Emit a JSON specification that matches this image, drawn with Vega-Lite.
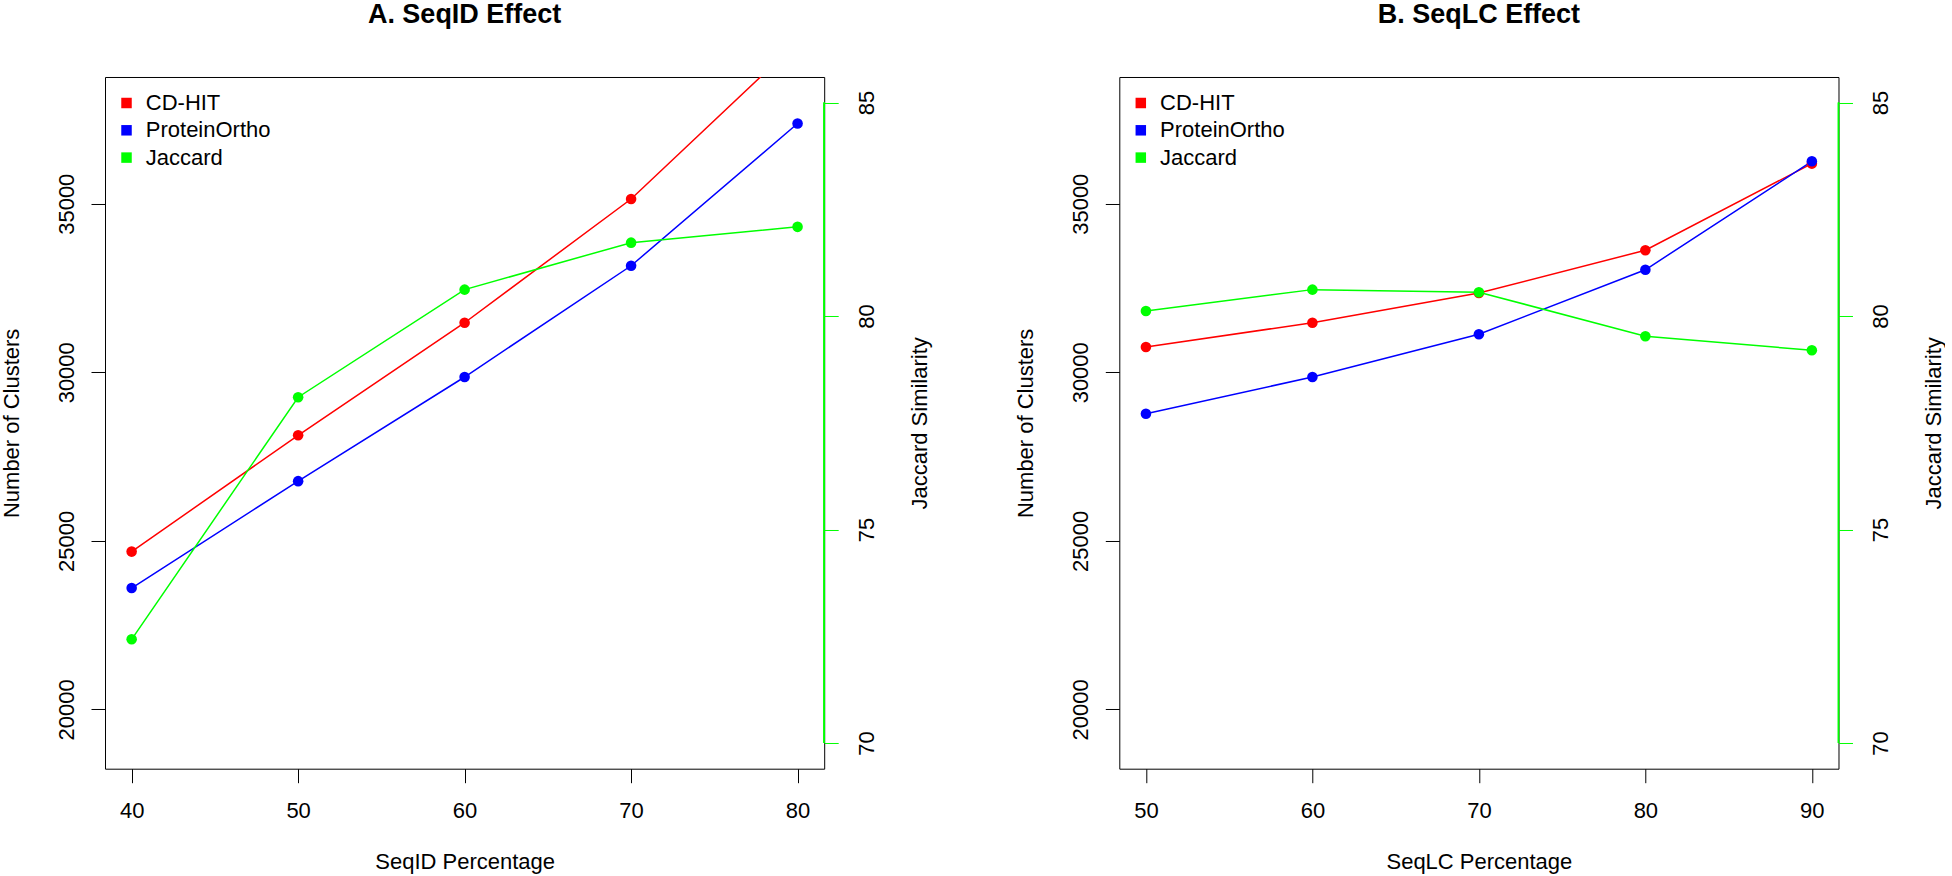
{
  "$schema": "https://vega.github.io/schema/vega-lite/v6.json",
  "background": "white",
  "padding": {"left": 0, "top": 0, "right": 0, "bottom": 0},
  "data": {"values": [
    {"panel": "A", "pct": 40, "series": "CD-HIT", "value": 24680},
    {"panel": "A", "pct": 50, "series": "CD-HIT", "value": 28130},
    {"panel": "A", "pct": 60, "series": "CD-HIT", "value": 31470},
    {"panel": "A", "pct": 70, "series": "CD-HIT", "value": 35140},
    {"panel": "A", "pct": 80, "series": "CD-HIT", "value": 39800},
    {"panel": "A", "pct": 40, "series": "ProteinOrtho", "value": 23600},
    {"panel": "A", "pct": 50, "series": "ProteinOrtho", "value": 26770},
    {"panel": "A", "pct": 60, "series": "ProteinOrtho", "value": 29860},
    {"panel": "A", "pct": 70, "series": "ProteinOrtho", "value": 33160},
    {"panel": "A", "pct": 80, "series": "ProteinOrtho", "value": 37380},
    {"panel": "A", "pct": 40, "series": "Jaccard", "value": 72.43},
    {"panel": "A", "pct": 50, "series": "Jaccard", "value": 78.10},
    {"panel": "A", "pct": 60, "series": "Jaccard", "value": 80.62},
    {"panel": "A", "pct": 70, "series": "Jaccard", "value": 81.72},
    {"panel": "A", "pct": 80, "series": "Jaccard", "value": 82.09},
    {"panel": "B", "pct": 50, "series": "CD-HIT", "value": 30750},
    {"panel": "B", "pct": 60, "series": "CD-HIT", "value": 31470},
    {"panel": "B", "pct": 70, "series": "CD-HIT", "value": 32350},
    {"panel": "B", "pct": 80, "series": "CD-HIT", "value": 33620},
    {"panel": "B", "pct": 90, "series": "CD-HIT", "value": 36190},
    {"panel": "B", "pct": 50, "series": "ProteinOrtho", "value": 28770},
    {"panel": "B", "pct": 60, "series": "ProteinOrtho", "value": 29860},
    {"panel": "B", "pct": 70, "series": "ProteinOrtho", "value": 31130},
    {"panel": "B", "pct": 80, "series": "ProteinOrtho", "value": 33040},
    {"panel": "B", "pct": 90, "series": "ProteinOrtho", "value": 36260},
    {"panel": "B", "pct": 50, "series": "Jaccard", "value": 80.12},
    {"panel": "B", "pct": 60, "series": "Jaccard", "value": 80.62},
    {"panel": "B", "pct": 70, "series": "Jaccard", "value": 80.56},
    {"panel": "B", "pct": 80, "series": "Jaccard", "value": 79.53},
    {"panel": "B", "pct": 90, "series": "Jaccard", "value": 79.20}
  ]},
  "config": {
    "font": "Liberation Sans",
    "view": {"stroke": "black", "strokeWidth": 1},
    "axis": {
      "grid": false, "domain": false,
      "labelFont": "Liberation Sans", "titleFont": "Liberation Sans",
      "labelFontSize": 22, "titleFontSize": 22, "titleFontWeight": "normal",
      "labelColor": "black", "titleColor": "black",
      "tickColor": "black", "tickSize": 14, "tickWidth": 1,
      "minExtent": 50, "maxExtent": 50, "labelFlush": false, "labelOverlap": false
    },
    "title": {"font": "Liberation Sans", "fontSize": 27, "fontWeight": "bold", "color": "black", "baseline": "alphabetic", "offset": 48, "frame": "group", "anchor": "middle"},
    "legend": {"labelFont": "Liberation Sans"}
  },
  "hconcat": [
    {
      "width": 719.2, "height": 691.7,
      "title": "A. SeqID Effect",
      "transform": [{"filter": "datum.panel == 'A'"}],
      "encoding": {
        "x": {"field": "pct", "type": "quantitative", "scale": {"domain": [38.4, 81.6], "nice": false, "zero": false},
              "axis": {"values": [40, 50, 60, 70, 80], "title": "SeqID Percentage", "labelBaseline": "alphabetic", "labelPadding": 35, "titleBaseline": "alphabetic", "titlePadding": 50}}
      },
      "layer": [
        {
          "transform": [{"filter": "datum.series != 'Jaccard'"}],
          "encoding": {
            "y": {"field": "value", "type": "quantitative", "scale": {"domain": [18240, 38760], "nice": false, "zero": false},
                  "axis": {"orient": "left", "values": [20000, 25000, 30000, 35000], "format": "d", "title": "Number of Clusters",
                           "labelAngle": 270, "labelAlign": "center", "labelBaseline": "alphabetic", "labelPadding": 17.7,
                           "titleAngle": 270, "titleBaseline": "alphabetic", "titlePadding": 36.4}},
            "color": {"field": "series", "type": "nominal", "scale": {"domain": ["CD-HIT", "ProteinOrtho", "Jaccard"], "range": ["#FF0000", "#0000FF", "#00FF00"]},
                      "legend": {"orient": "none", "legendX": 10.5, "legendY": 15, "title": null, "symbolType": "square", "symbolSize": 110, "symbolStrokeWidth": 0, "symbolOpacity": 1, "labelFontSize": 22, "labelColor": "black", "labelOffset": 8.3, "rowPadding": 5.3, "padding": 0}}
          },
          "layer": [
            {"mark": {"type": "line", "strokeWidth": 1.5, "clip": true}},
            {"mark": {"type": "point", "filled": true, "size": 112, "opacity": 1, "strokeWidth": 0, "clip": true}}
          ]
        },
        {
          "transform": [{"filter": "datum.series == 'Jaccard'"}],
          "encoding": {
            "y": {"field": "value", "type": "quantitative", "scale": {"domain": [69.4, 85.6], "nice": false, "zero": false},
                  "axis": {"orient": "right", "values": [70, 75, 80, 85], "format": "d", "title": "Jaccard Similarity", "tickColor": "#00FF00",
                           "labelAngle": 270, "labelAlign": "center", "labelBaseline": "alphabetic", "labelPadding": 34.8,
                           "titleAngle": 270, "titleBaseline": "alphabetic", "titlePadding": 51.8}},
            "color": {"field": "series", "type": "nominal", "scale": {"domain": ["CD-HIT", "ProteinOrtho", "Jaccard"], "range": ["#FF0000", "#0000FF", "#00FF00"]}}
          },
          "layer": [
            {"mark": {"type": "line", "strokeWidth": 1.5, "clip": true}},
            {"mark": {"type": "point", "filled": true, "size": 112, "opacity": 1, "strokeWidth": 0, "clip": true}},
            {"mark": {"type": "rule", "strokeWidth": 1.2, "color": "#00FF00"}, "encoding": {"x": {"datum": 81.6}, "y": {"datum": 70}, "y2": {"datum": 85}, "color": {"value": "#00FF00"}}}
          ]
        }
      ],
      "resolve": {"scale": {"y": "independent"}, "axis": {"y": "independent"}}
    },
    {
      "width": 719.2, "height": 691.7,
      "title": "B. SeqLC Effect",
      "transform": [{"filter": "datum.panel == 'B'"}],
      "encoding": {
        "x": {"field": "pct", "type": "quantitative", "scale": {"domain": [48.4, 91.6], "nice": false, "zero": false},
              "axis": {"values": [50, 60, 70, 80, 90], "title": "SeqLC Percentage", "labelBaseline": "alphabetic", "labelPadding": 35, "titleBaseline": "alphabetic", "titlePadding": 50}}
      },
      "layer": [
        {
          "transform": [{"filter": "datum.series != 'Jaccard'"}],
          "encoding": {
            "y": {"field": "value", "type": "quantitative", "scale": {"domain": [18240, 38760], "nice": false, "zero": false},
                  "axis": {"orient": "left", "values": [20000, 25000, 30000, 35000], "format": "d", "title": "Number of Clusters",
                           "labelAngle": 270, "labelAlign": "center", "labelBaseline": "alphabetic", "labelPadding": 17.7,
                           "titleAngle": 270, "titleBaseline": "alphabetic", "titlePadding": 36.4}},
            "color": {"field": "series", "type": "nominal", "scale": {"domain": ["CD-HIT", "ProteinOrtho", "Jaccard"], "range": ["#FF0000", "#0000FF", "#00FF00"]},
                      "legend": {"orient": "none", "legendX": 10.5, "legendY": 15, "title": null, "symbolType": "square", "symbolSize": 110, "symbolStrokeWidth": 0, "symbolOpacity": 1, "labelFontSize": 22, "labelColor": "black", "labelOffset": 8.3, "rowPadding": 5.3, "padding": 0}}
          },
          "layer": [
            {"mark": {"type": "line", "strokeWidth": 1.5, "clip": true}},
            {"mark": {"type": "point", "filled": true, "size": 112, "opacity": 1, "strokeWidth": 0, "clip": true}}
          ]
        },
        {
          "transform": [{"filter": "datum.series == 'Jaccard'"}],
          "encoding": {
            "y": {"field": "value", "type": "quantitative", "scale": {"domain": [69.4, 85.6], "nice": false, "zero": false},
                  "axis": {"orient": "right", "values": [70, 75, 80, 85], "format": "d", "title": "Jaccard Similarity", "tickColor": "#00FF00",
                           "labelAngle": 270, "labelAlign": "center", "labelBaseline": "alphabetic", "labelPadding": 34.8,
                           "titleAngle": 270, "titleBaseline": "alphabetic", "titlePadding": 51.8}},
            "color": {"field": "series", "type": "nominal", "scale": {"domain": ["CD-HIT", "ProteinOrtho", "Jaccard"], "range": ["#FF0000", "#0000FF", "#00FF00"]}}
          },
          "layer": [
            {"mark": {"type": "line", "strokeWidth": 1.5, "clip": true}},
            {"mark": {"type": "point", "filled": true, "size": 112, "opacity": 1, "strokeWidth": 0, "clip": true}},
            {"mark": {"type": "rule", "strokeWidth": 1.2, "color": "#00FF00"}, "encoding": {"x": {"datum": 91.6}, "y": {"datum": 70}, "y2": {"datum": 85}, "color": {"value": "#00FF00"}}}
          ]
        }
      ],
      "resolve": {"scale": {"y": "independent"}, "axis": {"y": "independent"}}
    }
  ],
  "spacing": 294.3,
  "bounds": "flush",
  "resolve": {"scale": {"color": "independent"}, "legend": {"color": "independent"}}
}
